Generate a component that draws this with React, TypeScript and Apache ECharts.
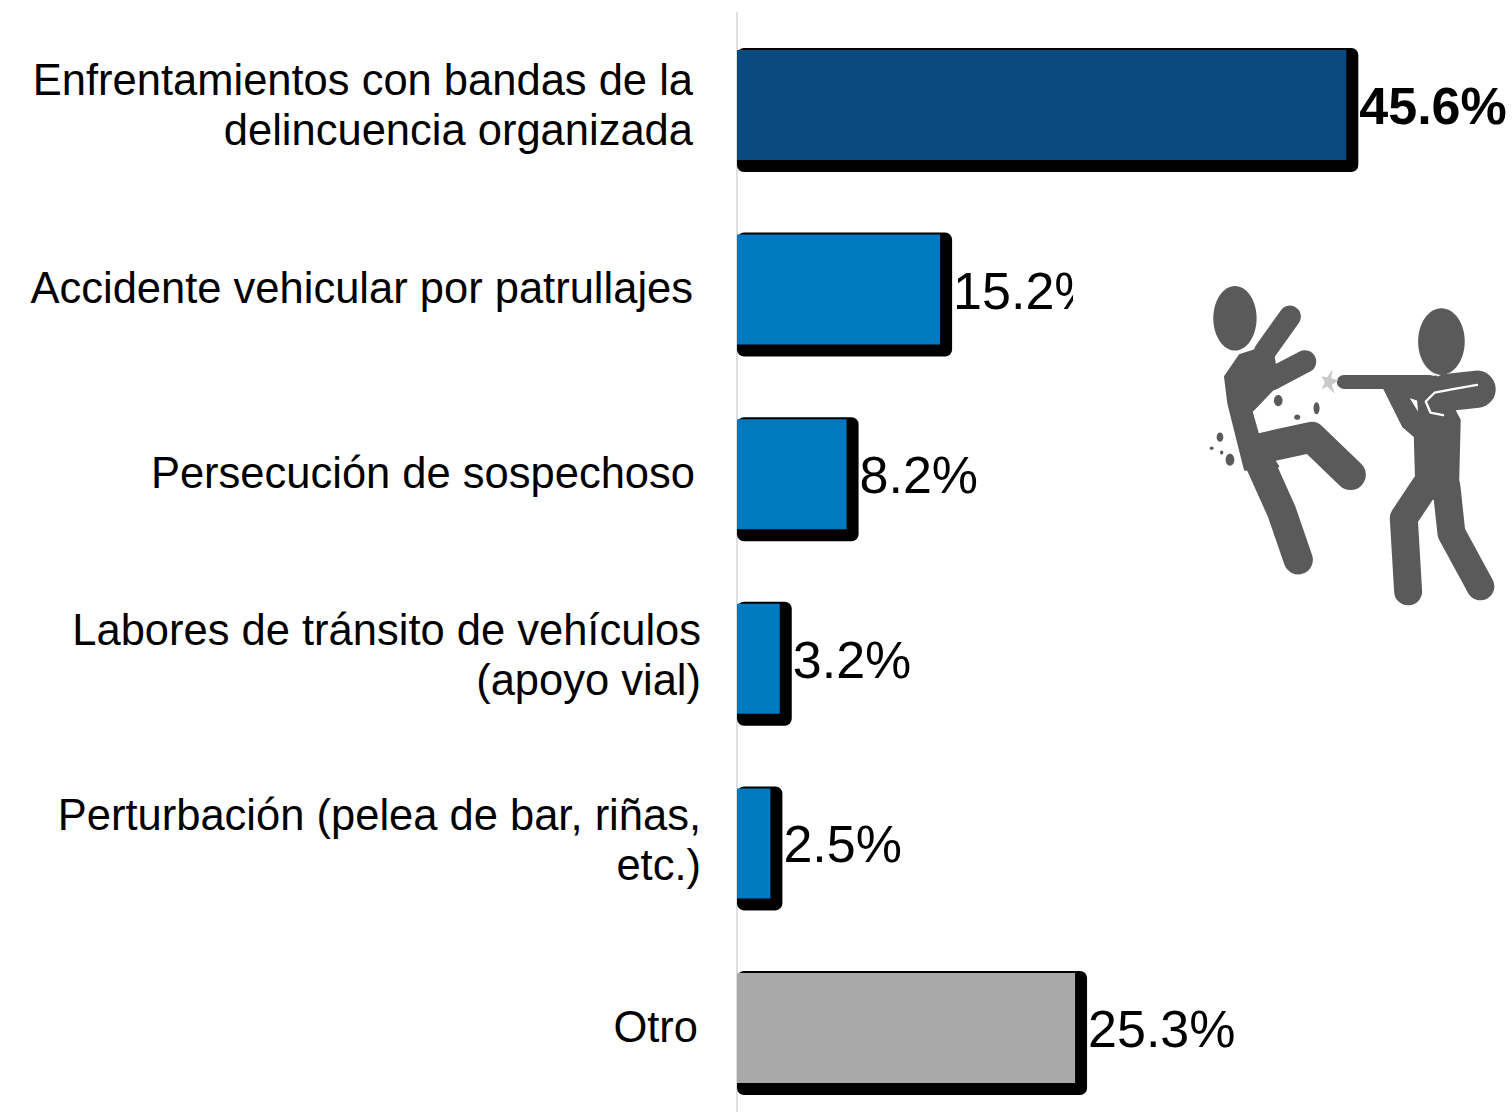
import React, { useEffect, useRef } from "react";
import * as echarts from "echarts";

const categories = [
  "Enfrentamientos con bandas de la\ndelincuencia organizada",
  "Accidente vehicular por patrullajes",
  "Persecución de sospechoso",
  "Labores de tránsito de vehículos\n(apoyo vial)",
  "Perturbación (pelea de bar, riñas,\netc.)",
  "Otro",
];
const values = [45.6, 15.2, 8.2, 3.2, 2.5, 25.3];
const barColors = ["#0A4A7F", "#0079C1", "#0079C1", "#0079C1", "#0079C1", "#A9A9A9"];
const boldValue = [true, false, false, false, false, false];
const labelPadRight = [8, 8, 6, 0, 0, 3];
const labelPadBottom = [0, 4, 2, 7, 7, 2];

const GREY = "#5A5A5A";
const ICON_STROKES: [number, number[][]][] = [
  // left figure
  [66, [[225, 245], [300, 140]]],
  [68, [[240, 330], [345, 275]]],
  [92, [[215, 535], [365, 502], [482, 615]]],
  [88, [[210, 580], [275, 725], [325, 870]]],
  // right figure
  [42, [[462, 336], [720, 336]]],
  [112, [[772, 368], [862, 358]]],
  [84, [[705, 650], [642, 745], [655, 965]]],
  [84, [[770, 650], [785, 790], [872, 950]]],
];
const ICON_POLYS: number[][][] = [
  [[105, 320], [150, 255], [245, 225], [265, 340], [240, 375], [185, 425], [205, 495], [265, 590], [165, 600], [130, 460], [115, 400]],
  [[575, 340], [740, 320], [810, 450], [805, 650], [740, 690], [680, 670], [675, 500], [640, 470]],
];
const ICON_ELLIPSES = [
  [135, 145, 65, 97],
  [755, 215, 70, 100],
  [90, 502, 10, 14],
  [120, 570, 13, 18],
  [95, 548, 5, 6],
  [65, 535, 6, 5],
];

const splitLabel = (text: string, i: number) =>
  text
    .split("\n")
    .map((l) => `{r${i}|${l}}`)
    .join("\n");

export default function App() {
  const ref = useRef<HTMLDivElement>(null);
  useEffect(() => {
    document.body.style.margin = "0";
    document.body.style.background = "#fff";
    const chart = echarts.init(ref.current!, null, { renderer: "svg" });
    const rich: any = {};
    categories.forEach((_, i) => {
      rich[`r${i}`] = {
        fontFamily: "Liberation Sans",
        fontSize: 43.5,
        lineHeight: 50,
        color: "#000",
        align: "right",
        padding: [0, labelPadRight[i], labelPadBottom[i], 0],
      };
    });
    const Z = 101;
    const iconChildren: any[] = [
      ...ICON_POLYS.map((points) => ({
        type: "polygon",
        z: Z,
        shape: { points },
        style: { fill: GREY, stroke: GREY, lineWidth: 6, lineJoin: "round" },
      })),
      ...ICON_STROKES.map(([lineWidth, points]) => ({
        type: "polyline",
        z: Z,
        shape: { points },
        style: { stroke: GREY, fill: "none", lineWidth, lineCap: "round", lineJoin: "round" },
      })),
      ...ICON_ELLIPSES.map(([cx, cy, rx, ry]) => ({
        type: "ellipse",
        z: Z,
        shape: { cx, cy, rx, ry },
        style: { fill: GREY },
      })),
      {
        type: "polyline",
        z: Z + 1,
        shape: { points: [[862, 345], [790, 358], [735, 368], [708, 395], [722, 428], [760, 436]] },
        style: { stroke: "#fff", fill: "none", lineWidth: 7, lineCap: "round", lineJoin: "round" },
      },
      {
        type: "polygon",
        z: Z + 1,
        shape: { points: [[660, 385], [682, 392], [685, 425]] },
        style: { fill: "#fff" },
      },
      {
        type: "polygon",
        z: Z + 1,
        shape: { points: [[190, 425], [250, 362], [345, 335], [400, 395], [395, 448], [300, 462], [205, 490], [245, 445]] },
        style: { fill: "#fff" },
      },
      ...[[265, 392, 13, 17], [380, 415, 9, 18], [322, 442, 9, 8]].map(([cx, cy, rx, ry]) => ({
        type: "ellipse",
        z: Z + 2,
        shape: { cx, cy, rx, ry },
        style: { fill: GREY },
      })),
      {
        type: "polygon",
        z: Z + 2,
        shape: { points: [[395, 320], [412, 322], [428, 298], [424, 325], [445, 332], [425, 345], [436, 372], [412, 350], [395, 358], [405, 338]] },
        style: { fill: "#c9c9c9" },
      },
    ];
    chart.setOption({
      animation: false,
      backgroundColor: "#fff",
      grid: { left: 737, top: 12.7, width: 775, height: 1107.6, outerBoundsMode: "none" },
      xAxis: { type: "value", min: 0, max: 58, show: false },
      yAxis: {
        type: "category",
        inverse: true,
        data: categories,
        axisLine: { show: true, lineStyle: { color: "#d4d4d4", width: 1.5 } },
        axisTick: { show: false },
        axisLabel: {
          margin: 36,
          interval: 0,
          rich,
          formatter: (v: string, i: number) => splitLabel(v, i),
        },
      },
      series: [
        {
          type: "custom",
          z: 1,
          clip: false,
          data: values.map((v, i) => [v, i]),
          encode: { x: 0, y: 1 },
          renderItem: (_: any, api: any) => {
            const p = api.coord([api.value(0), api.value(1)]);
            const o = api.coord([0, api.value(1)]);
            return {
              type: "rect",
              shape: { x: o[0], y: p[1] - 57, width: p[0] - o[0] + 12, height: 124, r: 7 },
              style: { fill: "#000" },
            };
          },
        },
        {
          type: "bar",
          z: 2,
          barWidth: 110,
          data: values.map((v, i) => ({
            value: v,
            itemStyle: { color: barColors[i] },
            label: { fontWeight: boldValue[i] ? "bold" : "normal" },
          })),
          label: {
            show: true,
            position: "right",
            distance: 13,
            offset: [0, 1],
            fontFamily: "Liberation Sans",
            fontSize: 52,
            color: "#000",
            formatter: (p: any) => `${p.value}%`,
          },
        },
      ],
      graphic: [
        {
          type: "rect",
          z: 100,
          shape: { x: 1073, y: 236, width: 439, height: 376 },
          style: { fill: "#fff" },
        },
        {
          type: "group",
          z: 101,
          x: 1190,
          y: 270,
          scaleX: 1 / 3,
          scaleY: 1 / 3,
          children: iconChildren,
        },
      ],
    });
    return () => chart.dispose();
  }, []);
  return <div ref={ref} style={{ width: 1512, height: 1112 }} />;
}
